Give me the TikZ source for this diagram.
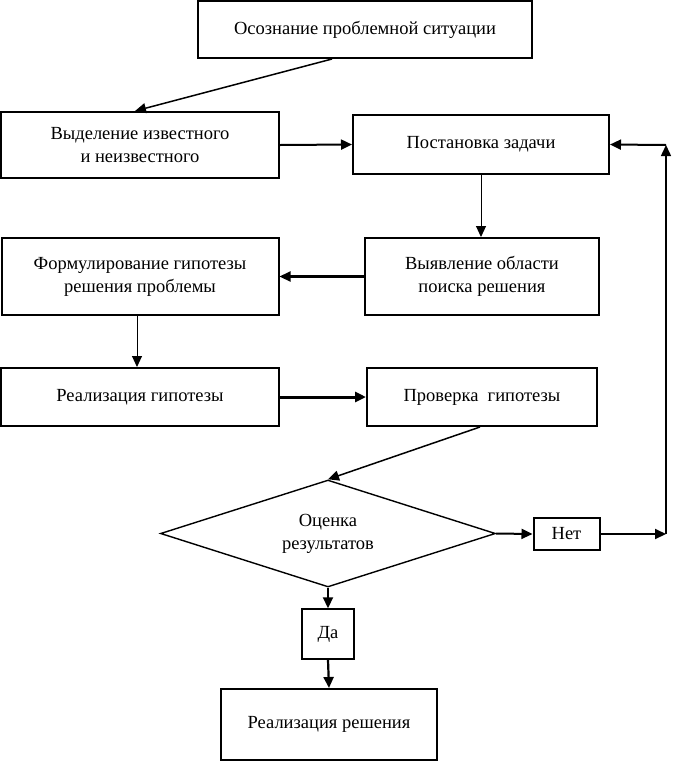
\documentclass[tikz,border=0pt]{standalone}
\usepackage{fontspec}
\setmainfont{Liberation Serif}
\usetikzlibrary{shapes.geometric,arrows.meta}
\begin{document}
\begin{tikzpicture}[x=1pt,y=-1pt,
  box/.style={draw,line width=2pt,rectangle,inner sep=0pt,align=center,font=\fontsize{18.5}{23}\selectfont},
  arr/.style={line width=1.5pt,-{Triangle[length=11pt,width=10pt]}},
  thin arr/.style={line width=1pt,-{Triangle[length=11pt,width=10pt]}}]
\useasboundingbox (0,0) rectangle (674,761);
\node[box,minimum width=334pt,minimum height=57pt] (b1) at (365,29.5) {Осознание проблемной ситуации};
\node[box,minimum width=278pt,minimum height=66pt] (b2) at (140,145) {Выделение известного\\и неизвестного};
\node[box,minimum width=256pt,minimum height=59pt] (b3) at (481,144.5) {Постановка задачи};
\node[box,minimum width=277pt,minimum height=77pt] (b4) at (140,276.5) {Формулирование гипотезы\\решения проблемы};
\node[box,minimum width=234pt,minimum height=77pt] (b5) at (482,276.5) {Выявление области\\поиска решения};
\node[box,minimum width=278pt,minimum height=58pt] (b6) at (140,397) {Реализация гипотезы};
\node[box,minimum width=230pt,minimum height=58pt] (b7) at (482,397) {Проверка\ \ гипотезы};
\node[box,diamond,line width=1.4pt,minimum width=335pt,minimum height=107pt,aspect=3.13] (d) at (328,533.5) {Оценка\\результатов};
\node[box,minimum width=66pt,minimum height=32pt] (n) at (566.5,534) {Нет};
\node[box,line width=1.5pt,minimum width=52pt,minimum height=50pt] (da) at (328,634) {Да};
\node[box,minimum width=216pt,minimum height=71pt] (f) at (329,724.5) {Реализация решения};
\coordinate (c1) at (666,534);
\coordinate (c2) at (666,145);
\draw[arr] ([xshift=135pt]b1.south west) -- ([xshift=-5pt]b2.north);
\draw[arr,line width=2pt] (b2.east) -- (b3.west);
\draw[thin arr] (b3.south) -- (b3.south |- b5.north);
\draw[arr,line width=2.2pt] (b5.west) -- (b4.east);
\draw[thin arr] ([xshift=-3pt]b4.south) -- ([xshift=-3pt]b4.south |- b6.north);
\draw[arr,line width=3pt] (b6.east) -- (b7.west);
\draw[arr] ([xshift=-2pt]b7.south) -- (d.north);
\draw[arr,line width=2pt] (d.east) -- (n.west);
\draw[arr,line width=2pt] (n.east) -- (c1);
\draw[arr] (c1) -- (c2);
\draw[arr,line width=2pt] (c2) -- (b3.east);
\draw[arr,line width=2.2pt] (d.south) -- (da.north);
\draw[arr,line width=2.2pt] (da.south) -- (f.north);
\end{tikzpicture}
\end{document}
